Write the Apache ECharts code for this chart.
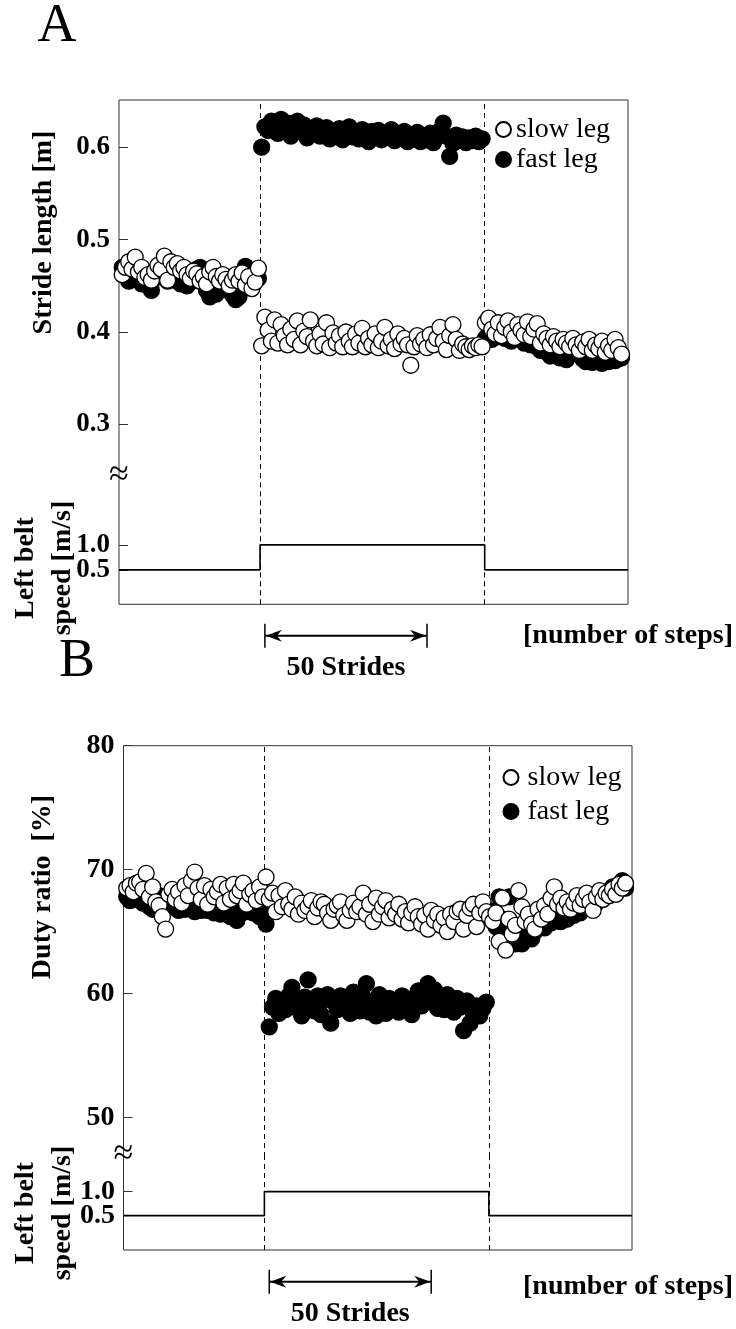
<!DOCTYPE html>
<html>
<head>
<meta charset="utf-8">
<script src="https://cdn.jsdelivr.net/npm/echarts@6/dist/echarts.min.js"></script>
<style>
html, body { margin: 0; padding: 0; background: #fff; }
#main { width: 736px; height: 1329px; }
</style>
</head>
<body>
<div id="main"></div>
<script>
// stride number where each phase starts
var baseStart = 1, splitStart = 44, postStart = 113;
var xMax = 157;
var phaseChanges = [43.5, 112.8];      // dashed lines
var arrowFrom = 45, arrowTo = 95;      // "50 Strides"

// belt speed (m/s), step changes
var speedSteps = [0, 43.5, 112.8, 157];
var speedValues = [0.5, 1.0, 0.5, 0.5];

var strideTicks = [0.3, 0.4, 0.5, 0.6];
var dutyTicks = [50, 60, 70, 80];
var speedTicks = [0.5, 1.0];

// A: stride length [m]
var aSlowBase = [.462,.470,.476,.468,.481,.465,.470,.459,.462,.456,
  .466,.472,.468,.482,.456,.476,.470,.474,.466,.470,
  .462,.458,.466,.463,.455,.460,.452,.465,.470,.460,
  .455,.462,.457,.450,.456,.462,.455,.464,.451,.460,
  .447,.454,.469];
var aFastBase = [.470,.462,.455,.466,.458,.463,.452,.460,.450,.445,
  .458,.466,.474,.462,.455,.460,.456,.463,.452,.458,
  .450,.454,.462,.468,.470,.455,.445,.438,.448,.441,
  .452,.458,.446,.450,.440,.435,.438,.446,.471,.462,
  .452,.466,.458];
var aSlowSplit = [.385,.416,.402,.390,.413,.388,.408,.396,.386,.403,
  .392,.412,.386,.401,.395,.413,.390,.385,.398,.387,
  .410,.383,.399,.388,.396,.384,.400,.390,.384,.398,
  .388,.404,.384,.393,.386,.398,.383,.390,.405,.385,
  .392,.382,.398,.387,.393,.386,.364,.384,.396,.387,
  .392,.383,.397,.386,.393,.405,.390,.381,.396,.408,
  .392,.380,.387,.384,.381,.385,.383,.386,.384];
var aFastSplit = [.600,.622,.618,.628,.624,.615,.630,.620,.626,.612,
  .622,.628,.617,.624,.610,.620,.616,.623,.612,.618,
  .621,.609,.617,.614,.620,.608,.618,.622,.611,.616,
  .609,.619,.613,.606,.617,.612,.618,.608,.615,.611,
  .619,.607,.614,.610,.617,.606,.613,.609,.616,.606,
  .612,.608,.615,.605,.611,.618,.626,.612,.590,.604,
  .613,.608,.611,.605,.610,.607,.612,.606,.609];
var aSlowPost = [.410,.415,.403,.398,.410,.396,.405,.412,.400,.394,
  .408,.402,.397,.411,.395,.403,.409,.388,.398,.393,
  .386,.395,.390,.384,.392,.388,.384,.393,.386,.380,
  .389,.384,.392,.380,.386,.382,.390,.378,.385,.380,
  .392,.383,.376];
var aFastPost = [.393,.398,.392,.400,.395,.405,.393,.398,.390,.396,
  .401,.392,.388,.395,.386,.390,.384,.380,.386,.378,
  .374,.381,.376,.372,.378,.370,.375,.382,.388,.376,
  .371,.368,.374,.367,.372,.369,.366,.372,.368,.374,
  .369,.371,.372];

// B: duty ratio [%]
var bSlowBase = [68.5,68.7,68.2,68.9,69.0,68.4,69.7,67.8,68.6,67.4,
  67.1,66.2,65.2,68.0,68.4,67.6,68.2,67.3,68.7,67.9,
  69.1,69.8,68.5,67.6,68.7,67.2,68.4,67.8,68.2,68.8,
  67.3,68.5,67.6,68.8,67.9,68.3,68.9,67.2,68.0,68.3,
  67.5,68.6,67.8];
var bFastBase = [67.8,67.5,68.2,67.6,67.9,67.3,67.8,67.0,66.8,67.4,
  67.9,67.1,67.8,67.1,67.5,66.9,66.7,67.2,66.8,67.0,
  67.4,66.6,67.1,66.7,67.3,66.7,67.0,66.5,66.9,66.4,
  67.2,66.6,66.2,66.8,65.9,66.4,67.1,66.6,67.0,66.5,
  66.8,66.2,66.6];
var bSlowSplit = [69.4,67.6,68.1,66.6,67.9,67.0,68.3,67.2,66.8,67.8,
  66.4,67.3,66.7,67.0,67.5,66.2,66.9,67.4,67.2,66.5,
  65.9,66.8,67.1,67.4,66.3,65.9,66.7,67.3,66.6,67.0,
  68.1,66.4,67.2,65.8,67.7,66.4,67.0,67.5,66.1,66.8,
  66.4,67.2,66.0,66.6,65.7,66.5,67.0,66.2,65.6,66.3,
  65.2,66.7,65.9,66.4,65.5,66.1,65.0,66.4,65.8,66.6,
  66.8,65.2,66.3,66.9,67.2,65.4,66.5,67.4,66.6];
var bFastSplit = [65.6,57.3,58.9,59.6,58.4,59.2,58.7,59.8,60.5,58.9,
  59.4,58.2,59.7,61.1,59.0,58.6,59.8,58.3,59.5,59.9,
  57.6,59.3,58.7,59.8,58.9,59.5,58.4,60.1,59.2,58.6,
  59.7,60.8,58.5,59.4,58.2,59.9,59.1,58.4,59.6,58.8,
  59.3,58.5,59.8,58.9,59.4,58.3,59.7,60.2,59.0,59.8,
  60.8,59.3,60.3,58.8,59.6,58.7,59.9,59.2,58.5,59.6,
  58.9,57.0,59.4,57.6,58.4,59.0,58.2,58.8,59.3];
var bSlowPost = [66.2,65.8,66.5,64.2,67.7,63.5,66.0,64.8,65.5,68.3,
  67.0,65.8,66.4,65.6,65.2,66.8,66.0,67.1,66.4,67.7,
  68.6,67.2,67.7,66.9,67.4,66.8,67.3,67.9,67.1,67.6,
  68.1,67.4,66.7,67.8,68.3,67.6,68.1,67.9,68.4,68.0,
  68.8,68.5,68.9];
var bFastPost = [66.7,66.2,65.4,67.8,66.0,65.2,67.8,64.8,64.0,65.0,
  64.0,64.6,65.2,64.4,65.0,65.6,65.8,65.3,66.0,65.7,
  65.9,66.2,65.8,66.4,66.0,66.6,66.3,66.8,66.5,66.8,
  67.2,67.0,67.5,67.3,67.9,67.6,68.0,68.3,68.6,68.2,
  68.8,69.1,68.5];

var FONT = '"Liberation Serif", "Times New Roman", serif';

function phases(base, split, post) {
  var out = [];
  base.forEach(function (v, i) { out.push([baseStart + i, v]); });
  split.forEach(function (v, i) { out.push([splitStart + i, v]); });
  post.forEach(function (v, i) { out.push([postStart + i, v]); });
  return out;
}

var speedData = speedSteps.map(function (s, i) { return [s, speedValues[i]]; });

var dashed = {
  silent: true, symbol: ['none', 'none'], z: 1, animation: false,
  label: { show: false },
  lineStyle: { type: [5, 4], color: '#000', width: 1 },
  data: phaseChanges.map(function (v) { return { xAxis: v }; })
};

function dots(name, idx, data, filled, withLines) {
  var s = {
    name: name, type: 'scatter', xAxisIndex: idx, yAxisIndex: idx,
    data: data, symbol: 'circle', symbolSize: 16, silent: true,
    itemStyle: { color: filled ? '#000' : '#fff', borderColor: '#000', borderWidth: 1.3, opacity: 1 }
  };
  if (withLines) s.markLine = dashed;
  return s;
}

function speedLine(idx) {
  return {
    type: 'line', xAxisIndex: idx, yAxisIndex: idx, data: speedData, step: 'end',
    symbol: 'none', silent: true, lineStyle: { color: '#000', width: 1.6 },
    markLine: dashed
  };
}

function yAx(grid, min, max, ticks, size, fmt) {
  return {
    type: 'value', gridIndex: grid, min: min, max: max,
    axisLine: { show: false }, splitLine: { show: false },
    axisTick: { show: true, inside: true, length: 9, customValues: ticks,
      lineStyle: { color: '#333', width: 1 } },
    axisLabel: { show: size > 0, customValues: ticks, margin: 9, fontFamily: FONT,
      fontWeight: 'bold', fontSize: size || 12, color: '#000', formatter: fmt }
  };
}
function xAx(grid) {
  return { type: 'value', gridIndex: grid, min: 0, max: xMax, show: false };
}
function fmt1(v) { return Number(v).toFixed(1); }
function fmt0(v) { return String(Math.round(v)); }

var chart = echarts.init(document.getElementById('main'), null, { renderer: 'canvas' });

var g = { show: false, outerBoundsMode: 'none', containLabel: false };
chart.setOption({
  animation: false,
  backgroundColor: '#fff',
  textStyle: { fontFamily: FONT },
  grid: [
    Object.assign({ left: 119, width: 509, top: 100, height: 378 }, g),
    Object.assign({ left: 119, width: 509, top: 478, height: 126.3 }, g),
    Object.assign({ left: 123.5, width: 508.5, top: 745.7, height: 411.3 }, g),
    Object.assign({ left: 123.5, width: 508.5, top: 1157, height: 93 }, g),
    { left: 119, width: 509, top: 100, height: 504.3, show: true, borderColor: '#333',
      borderWidth: 1, backgroundColor: 'transparent', outerBoundsMode: 'none' },
    { left: 123.5, width: 508.5, top: 745.7, height: 504.3, show: true, borderColor: '#333',
      borderWidth: 1, backgroundColor: 'transparent', outerBoundsMode: 'none' }
  ],
  xAxis: [xAx(0), xAx(1), xAx(2), xAx(3), xAx(4), xAx(5)],
  yAxis: [
    yAx(0, 0.242, 0.651, strideTicks, 27, fmt1),
    // speed labels sit too close for the axis; drawn below from the axis scale
    yAx(1, -0.19, 2.34, speedTicks, 0, fmt1),
    yAx(2, 46.8, 80, dutyTicks, 28, fmt0),
    yAx(3, -0.215, 1.72, speedTicks, 0, fmt1),
    { type: 'value', gridIndex: 4, show: false },
    { type: 'value', gridIndex: 5, show: false }
  ],
  legend: [
    { data: ['slow leg', 'fast leg'], orient: 'vertical', left: 495, top: 115.5,
      itemWidth: 15, itemHeight: 15, itemGap: 2, icon: 'circle', selectedMode: false, padding: 0,
      textStyle: { fontFamily: FONT, fontSize: 28, lineHeight: 27, color: '#000' } },
    { data: ['slow leg', 'fast leg'], orient: 'vertical', left: 502.5, top: 763.5,
      itemWidth: 15, itemHeight: 15, itemGap: 6, icon: 'circle', selectedMode: false, padding: 0,
      textStyle: { fontFamily: FONT, fontSize: 28, lineHeight: 27, color: '#000', padding: [0, 0, 0, 4] } }
  ],
  series: [
    dots('fast leg', 0, phases(aFastBase, aFastSplit, aFastPost), true, true),
    dots('slow leg', 0, phases(aSlowBase, aSlowSplit, aSlowPost), false, false),
    speedLine(1),
    dots('fast leg', 2, phases(bFastBase, bFastSplit, bFastPost), true, true),
    dots('slow leg', 2, phases(bSlowBase, bSlowSplit, bSlowPost), false, false),
    speedLine(3)
  ]
});

function txt(x, y, text, size, bold, align, rot) {
  return { type: 'text', x: x, y: y, rotation: rot || 0, silent: true,
    style: { text: text, fontFamily: FONT, fontSize: size, fontWeight: bold ? 'bold' : 'normal',
      fill: '#000', align: align || 'center', verticalAlign: 'middle', lineHeight: 37 } };
}

function arrow(xi, y) {
  var x1 = chart.convertToPixel({ xAxisIndex: xi }, arrowFrom);
  var x2 = chart.convertToPixel({ xAxisIndex: xi }, arrowTo);
  var st = { stroke: '#000', lineWidth: 1.5 };
  return [
    { type: 'line', silent: true, shape: { x1: x1, y1: y, x2: x2, y2: y }, style: { stroke: '#000', lineWidth: 2 } },
    { type: 'line', silent: true, shape: { x1: x1, y1: y - 12, x2: x1, y2: y + 12 }, style: st },
    { type: 'line', silent: true, shape: { x1: x2, y1: y - 12, x2: x2, y2: y + 12 }, style: st },
    { type: 'polygon', silent: true, shape: { points: [[x1 + 1, y], [x1 + 17, y - 6], [x1 + 12, y], [x1 + 17, y + 6]] }, style: { fill: '#000' } },
    { type: 'polygon', silent: true, shape: { points: [[x2 - 1, y], [x2 - 17, y - 6], [x2 - 12, y], [x2 - 17, y + 6]] }, style: { fill: '#000' } },
    txt((x1 + x2) / 2, y + 32, '50 Strides', 28, true)
  ];
}

function speedLabels(yi, x, size) {
  return speedTicks.map(function (v) {
    var y = chart.convertToPixel({ yAxisIndex: yi }, v);
    return txt(x, y, fmt1(v), size, true, 'right');
  });
}

var els = [
  txt(57, 27, 'A', 54, false),
  txt(77, 662, 'B', 54, false),
  txt(43.5, 232.5, 'Stride length [m]', 28, true, 'center', Math.PI / 2),
  txt(42.5, 887, 'Duty ratio  [%]', 28, true, 'center', Math.PI / 2),
  txt(44, 568, 'Left belt\nspeed [m/s]', 28, true, 'center', Math.PI / 2),
  txt(44, 1213, 'Left belt\nspeed [m/s]', 28, true, 'center', Math.PI / 2),
  txt(119, 476, '\u2248', 36, false),
  txt(123.5, 1155, '\u2248', 36, false),
  txt(733, 636, '[number of steps]', 28, true, 'right'),
  txt(733, 1287, '[number of steps]', 28, true, 'right')
].concat(arrow(1, 635.7), arrow(3, 1281.7),
  speedLabels(1, 110, 27), speedLabels(3, 115, 28));

chart.setOption({ graphic: { elements: els } });
</script>
</body>
</html>
